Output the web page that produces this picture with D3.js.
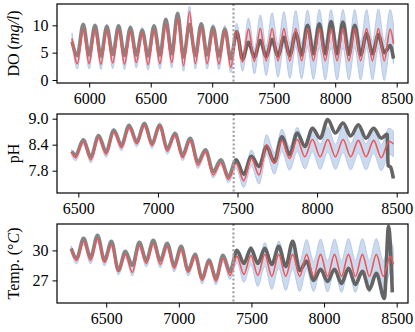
<!DOCTYPE html>
<html>
<head>
<meta charset="utf-8">
<script src="https://d3js.org/d3.v7.min.js"></script>
<style>
  body { margin: 0; background: #fff; }
  svg text { font-family: "Liberation Serif", "Times New Roman", serif; fill: #000; }
</style>
</head>
<body>
<svg id="chart" width="415" height="332"></svg>
<script>
// ---- DO panel: daily extrema (trough / peak) ----
const doT = [5860, 5903, 5951, 5999, 6047, 6095, 6143, 6191, 6239, 6287, 6335, 6383, 6431, 6479,
  6527, 6575, 6623, 6671, 6719, 6767, 6815, 6863, 6911, 6959, 7007, 7055, 7103, 7151, 7199, 7247,
  7295, 7343, 7391, 7439, 7487, 7535, 7583, 7631, 7679, 7727, 7775, 7823, 7871, 7919, 7967, 8015,
  8063, 8111, 8159, 8207, 8255, 8303, 8351, 8399, 8447, 8474];
const doObs = [7.0, 4.5, 10.2, 4.6, 10.0, 4.4, 9.8, 4.7, 9.9, 4.5, 9.6, 4.6, 9.1, 4.4,
  9.9, 4.6, 11.1, 4.8, 12.2, 4.2, 10.2, 4.5, 10.3, 4.6, 9.7, 4.4, 9.3, 3.9, 8.8, 3.8,
  6.9, 4.2, 7.2, 4.3, 7.4, 4.4, 7.8, 4.5, 8.6, 4.6, 10.0, 4.8, 10.3, 4.8, 10.7, 4.8,
  10.6, 4.7, 10.0, 4.6, 8.5, 4.8, 8.3, 5.0, 6.3, 3.9];
const doFit = [7.6, 3.0, 9.3, 3.0, 9.2, 2.9, 9.2, 3.1, 9.2, 2.9, 9.0, 3.2, 8.7, 2.8,
  9.2, 3.0, 10.2, 3.2, 11.3, 2.6, 12.5, 3.0, 9.6, 3.0, 9.2, 2.9, 9.0, 2.3, 9.0, 3.3,
  9.3, 3.4, 9.4, 3.5, 9.4, 3.5, 9.4, 3.5, 9.4, 3.5, 9.4, 3.5, 9.4, 3.5, 9.4, 3.5,
  9.4, 3.5, 9.4, 3.5, 9.4, 3.5, 9.4, 3.5, 9.3, 6.6];
const doBand = [1.0, 1.0, 1.0, 1.0, 1.0, 1.0, 1.0, 1.0, 1.0, 1.0, 1.0, 1.0, 1.0, 1.0,
  1.0, 1.0, 1.0, 1.0, 1.0, 1.0, 1.0, 1.0, 1.0, 1.0, 1.0, 1.0, 1.0, 1.0, 1.4, 1.7,
  2.0, 2.3, 2.5, 2.7, 2.9, 3.0, 3.1, 3.2, 3.3, 3.3, 3.4, 3.4, 3.5, 3.5, 3.5, 3.5,
  3.5, 3.5, 3.5, 3.5, 3.5, 3.5, 3.6, 3.6, 3.6, 3.6];
const doCut = 7173;

// ---- pH panel ----
const phT = [6458, 6483, 6531, 6579, 6627, 6675, 6723, 6771, 6819, 6867, 6915, 6963, 7011, 7059,
  7107, 7155, 7203, 7251, 7299, 7347, 7395, 7443, 7491, 7539, 7587, 7635, 7683, 7731, 7779, 7827,
  7875, 7923, 7971, 8019, 8067, 8115, 8163, 8211, 8259, 8307, 8355, 8403, 8451, 8479];
const phObsT = [6458, 6483, 6531, 6579, 6627, 6675, 6723, 6771, 6819, 6867, 6915, 6963, 7011, 7059,
  7107, 7155, 7203, 7251, 7299, 7347, 7395, 7443, 7491, 7539, 7587, 7635, 7683, 7731, 7779, 7827,
  7875, 7923, 7971, 8019, 8067, 8115, 8163, 8211, 8259, 8307, 8355, 8403, 8440, 8446, 8462, 8479];
const phObs = [8.25, 8.16, 8.51, 8.12, 8.61, 8.24, 8.74, 8.39, 8.85, 8.47, 8.89, 8.43, 8.85, 8.31,
  8.66, 8.16, 8.55, 8.00, 8.28, 7.78, 8.05, 7.66, 8.05, 7.72, 8.13, 7.90, 8.36, 8.00, 8.58, 8.17,
  8.67, 8.36, 8.78, 8.55, 8.98, 8.67, 8.90, 8.60, 8.86, 8.55, 8.78, 8.55, 8.64, 7.92, 7.88, 7.62];
const phFit = [8.22, 8.10, 8.47, 8.05, 8.57, 8.18, 8.70, 8.33, 8.80, 8.42, 8.86, 8.38, 8.84, 8.25,
  8.62, 8.10, 8.50, 7.92, 8.24, 7.70, 7.99, 7.60, 7.97, 7.57, 8.09, 7.70, 8.40, 7.97, 8.50, 8.08,
  8.52, 8.12, 8.52, 8.12, 8.52, 8.12, 8.52, 8.12, 8.50, 8.12, 8.50, 8.10, 8.48, 8.42];
const phBand = [0.07, 0.07, 0.07, 0.07, 0.07, 0.07, 0.07, 0.07, 0.07, 0.07, 0.07, 0.07, 0.07, 0.07,
  0.07, 0.07, 0.07, 0.07, 0.07, 0.07, 0.07, 0.08, 0.12, 0.16, 0.19, 0.21, 0.23, 0.25, 0.26, 0.27,
  0.28, 0.28, 0.29, 0.29, 0.29, 0.29, 0.30, 0.30, 0.30, 0.30, 0.30, 0.30, 0.30, 0.30];
const phCut = 7476;

// ---- Temperature panel ----
const tpT = [6259, 6296, 6344, 6392, 6440, 6488, 6536, 6584, 6632, 6680, 6728, 6776, 6824, 6872,
  6920, 6968, 7016, 7064, 7112, 7160, 7208, 7256, 7304, 7352, 7400, 7448, 7496, 7544, 7592, 7640,
  7688, 7736, 7784, 7832, 7880, 7928, 7976, 8024, 8072, 8120, 8168, 8216, 8264, 8312, 8360, 8408,
  8456, 8477];
const tpObsT = [6259, 6296, 6344, 6392, 6440, 6488, 6536, 6584, 6632, 6680, 6728, 6776, 6824, 6872,
  6920, 6968, 7016, 7064, 7112, 7160, 7208, 7256, 7304, 7352, 7400, 7448, 7496, 7544, 7592, 7640,
  7688, 7736, 7784, 7832, 7880, 7928, 7976, 8024, 8072, 8120, 8168, 8216, 8264, 8312, 8360, 8415,
  8444, 8470];
const tpObs = [30.2, 29.2, 31.2, 29.3, 31.5, 29.0, 30.9, 28.0, 29.9, 28.5, 30.8, 29.0, 31.0, 29.0,
  30.7, 28.5, 30.4, 28.0, 29.6, 27.2, 29.0, 27.2, 29.5, 27.9, 30.0, 28.7, 30.2, 28.7, 30.2, 28.6,
  30.4, 28.4, 30.9, 28.0, 28.9, 27.0, 28.1, 26.9, 28.1, 26.7, 28.2, 26.6, 27.9, 26.1, 27.7, 25.2,
  32.4, 25.8];
const tpFit = [30.1, 29.0, 30.9, 29.0, 31.2, 28.8, 30.6, 27.9, 29.6, 27.8, 30.5, 28.7, 30.7, 28.6,
  30.4, 28.2, 30.1, 27.8, 29.4, 27.0, 28.9, 26.9, 29.2, 27.5, 29.4, 27.6, 29.5, 27.5, 29.6, 27.4,
  29.6, 27.4, 29.6, 27.4, 29.6, 27.4, 29.6, 27.4, 29.6, 27.4, 29.6, 27.4, 29.6, 27.4, 29.6, 27.4,
  29.4, 28.6];
const tpBand = [0.35, 0.35, 0.35, 0.35, 0.35, 0.35, 0.35, 0.35, 0.35, 0.35, 0.35, 0.35, 0.35, 0.35,
  0.35, 0.35, 0.35, 0.35, 0.35, 0.35, 0.35, 0.35, 0.35, 0.4, 0.6, 0.8, 0.95, 1.1, 1.2, 1.3,
  1.35, 1.4, 1.45, 1.5, 1.5, 1.5, 1.55, 1.55, 1.55, 1.6, 1.6, 1.6, 1.6, 1.6, 1.6, 1.6,
  1.6, 1.6];
const tpCut = 7376;

// tick values
const doXTicks = [6000, 6500, 7000, 7500, 8000, 8500];
const doYTicks = [0, 5, 10];
const phXTicks = [6500, 7000, 7500, 8000, 8500];
const phYTicks = [7.8, 8.4, 9.0];
const tpXTicks = [6500, 7000, 7500, 8000, 8500];
const tpYTicks = [27, 30];

const svg = d3.select("#chart");
const left = 57, right = 408;

const panels = [
  {id: "do", top: 4, h: 79, xDomain: [5738, 8592], yDomain: [-0.55, 13.9],
   t: doT, fit: doFit, band: doBand, obsT: doT, obs: doObs, cut: doCut,
   xTicks: doXTicks, yTicks: doYTicks, yFmt: d3.format("d"), label: "do"},
  {id: "ph", top: 114, h: 79, xDomain: [6366, 8571], yDomain: [7.285, 9.108],
   t: phT, fit: phFit, band: phBand, obsT: phObsT, obs: phObs, cut: phCut,
   xTicks: phXTicks, yTicks: phYTicks, yFmt: d3.format(".1f"), label: "ph"},
  {id: "tp", top: 224, h: 79, xDomain: [6161, 8578], yDomain: [24.74, 32.64],
   t: tpT, fit: tpFit, band: tpBand, obsT: tpObsT, obs: tpObs, cut: tpCut,
   xTicks: tpXTicks, yTicks: tpYTicks, yFmt: d3.format("d"), label: "tp"}
];

panels.forEach(p => {
  const x = d3.scaleLinear().domain(p.xDomain).range([left, right]);
  const y = d3.scaleLinear().domain(p.yDomain).range([p.top + p.h, p.top]);
  const g = svg.append("g");

  const fitPts = p.t.map((t, k) => ({t: t, v: p.fit[k], s: p.band[k]}));
  const obsPts = p.obsT.map((t, k) => ({t: t, v: p.obs[k]}));

  // clips: axes box, training part, test part
  g.append("clipPath").attr("id", "box-" + p.id)
    .append("rect").attr("x", left).attr("y", p.top).attr("width", right - left).attr("height", p.h);
  g.append("clipPath").attr("id", "train-" + p.id)
    .append("rect").attr("x", left).attr("y", p.top).attr("width", x(p.cut) - left).attr("height", p.h);
  g.append("clipPath").attr("id", "test-" + p.id)
    .append("rect").attr("x", x(p.cut)).attr("y", p.top).attr("width", right - x(p.cut)).attr("height", p.h);

  const plot = g.append("g").attr("clip-path", `url(#box-${p.id})`);

  // uncertainty band
  plot.append("path").datum(fitPts)
    .attr("d", d3.area().x(d => x(d.t)).y0(d => y(d.v - d.s)).y1(d => y(d.v + d.s)).curve(d3.curveMonotoneX))
    .attr("fill", "#c2d3ec").attr("fill-opacity", 0.85)
    .attr("stroke", "#adc2e5").attr("stroke-width", 0.8);

  const obsLine = d3.line().x(d => x(d.t)).y(d => y(d.v)).curve(d3.curveMonotoneX);
  const fitLine = d3.line().x(d => x(d.t)).y(d => y(d.v)).curve(d3.curveMonotoneX);

  // observed, test part (dark)
  plot.append("g").attr("clip-path", `url(#test-${p.id})`)
    .append("path").datum(obsPts).attr("d", obsLine)
    .attr("fill", "none").attr("stroke", "#646464").attr("stroke-width", 3.6)
    .attr("stroke-linejoin", "round");

  // observed, training part (lighter)
  plot.append("g").attr("clip-path", `url(#train-${p.id})`)
    .append("path").datum(obsPts).attr("d", obsLine)
    .attr("fill", "none").attr("stroke", "#858585")
    .attr("stroke-width", 3.6).attr("stroke-linejoin", "round");

  // prediction on top
  plot.append("path").datum(fitPts).attr("d", fitLine)
    .attr("fill", "none").attr("stroke", "#ef5656").attr("stroke-width", 1.6);

  // forecast start
  g.append("line")
    .attr("x1", x(p.cut)).attr("x2", x(p.cut))
    .attr("y1", p.top).attr("y2", p.top + p.h)
    .attr("stroke", "#a0a0a0").attr("stroke-width", 2.2).attr("stroke-dasharray", "2,2.2");

  // frame
  g.append("rect").attr("x", left).attr("y", p.top)
    .attr("width", right - left).attr("height", p.h)
    .attr("fill", "none").attr("stroke", "#000").attr("stroke-width", 1.2);

  // axes
  const xa = g.append("g").attr("transform", `translate(0,${p.top + p.h})`)
    .call(d3.axisBottom(x).tickValues(p.xTicks).tickFormat(d3.format("d")).tickSize(4.5).tickPadding(5));
  const ya = g.append("g").attr("transform", `translate(${left},0)`)
    .call(d3.axisLeft(y).tickValues(p.yTicks).tickFormat(p.yFmt).tickSize(4.5).tickPadding(4));
  [xa, ya].forEach(a => {
    a.select(".domain").remove();
    a.selectAll(".tick line").attr("stroke", "#000").attr("stroke-width", 1);
    a.selectAll(".tick text").style("font-size", "16px").style("font-family", "'Liberation Serif', serif");
  });

  // y label
  const lab = g.append("text")
    .attr("transform", `translate(13,${p.top + p.h / 2}) rotate(-90)`)
    .attr("text-anchor", "middle").attr("dominant-baseline", "central")
    .style("font-size", "16px");
  if (p.label === "do") {
    lab.append("tspan").text("DO (");
    lab.append("tspan").style("font-style", "italic").text("mg/l");
    lab.append("tspan").text(")");
  } else if (p.label === "ph") {
    lab.text("pH");
  } else {
    lab.append("tspan").text("Temp. (°");
    lab.append("tspan").style("font-style", "italic").text("C");
    lab.append("tspan").text(")");
  }
});
</script>
</body>
</html>
